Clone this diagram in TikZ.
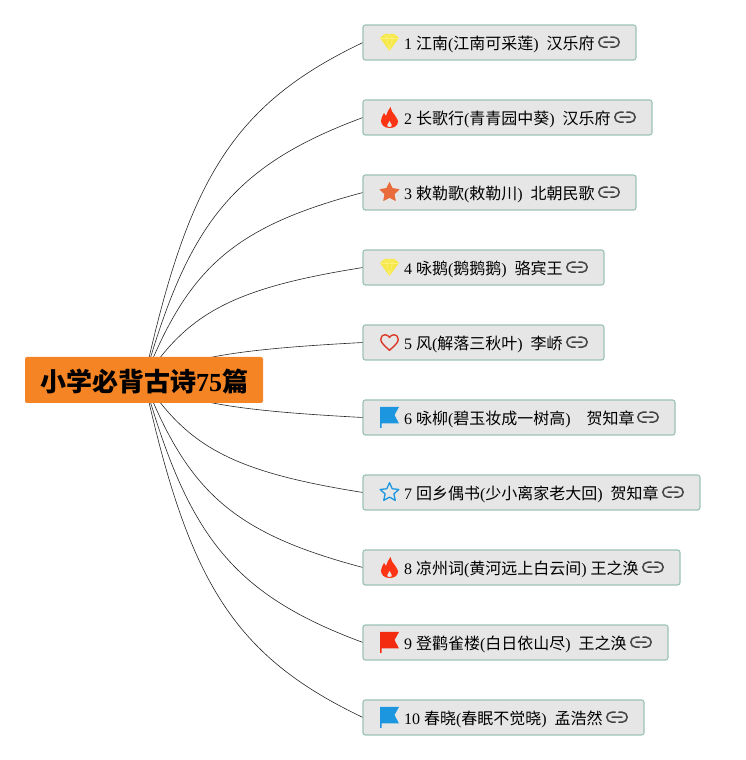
\documentclass[tikz,border=0pt]{standalone}
\usepackage{fontspec}
\setmainfont{Liberation Serif}
\newfontfamily\cjk{Noto Sans CJK SC}
\newcommand\hz[1]{{\cjk #1}}
\usetikzlibrary{calc,backgrounds}
\definecolor{rootfill}{HTML}{F58424}
\definecolor{boxfill}{HTML}{E6E6E6}
\definecolor{boxline}{HTML}{9DC3B5}
\definecolor{linkc}{HTML}{444444}
\definecolor{gemc}{HTML}{F7E84A}
\definecolor{gemlight}{HTML}{FBF07A}
\definecolor{firec}{HTML}{FA3414}
\definecolor{starc}{HTML}{E96A3A}
\definecolor{heartc}{HTML}{DB3A2A}
\definecolor{blueic}{HTML}{1B96DF}
\definecolor{redflag}{HTML}{F32C10}
\tikzset{
  rootnode/.style={draw=none,fill=rootfill,rounded corners=2pt,minimum width=238pt,minimum height=46pt,inner sep=0pt,outer sep=0pt,text height=24pt,text depth=0.8pt,font=\fontsize{26}{28}\selectfont\bfseries},
  topicbox/.style={draw=boxline,line width=1.2pt,fill=boxfill,rounded corners=2.5pt,minimum height=35pt,inner sep=0pt,outer sep=0pt,anchor=west},
  topictext/.style={anchor=west,inner sep=0pt,outer sep=0pt,font=\fontsize{16}{18}\selectfont},
  conn/.style={draw=black!85,line width=0.6pt},
  pics/gem/.style={code={
    \fill[gemc] (-9.5,4.5)--(-5,8.5)--(5,8.5)--(9.5,4.5)--(0,-8.5)--cycle;
    \draw[gemlight,line width=.6pt] (-9,4)--(9,4) (-5,8)--(-3,4)--(0,8)--(3,4)--(5,8) (-3,4)--(0,-7)--(3,4);
  }},
  pics/fire/.style={code={
    \fill[firec,even odd rule] (0,-10.5) .. controls (-5.5,-10.5) and (-8.5,-7) .. (-8.5,-3)
      .. controls (-8.5,0) and (-6.5,2) .. (-5.5,4.5)
      .. controls (-4.5,3.5) and (-4,2.5) .. (-3.5,1.5)
      .. controls (-2.5,5) and (-1,8) .. (1,10.5)
      .. controls (1,7) and (3.5,5) .. (5.5,2)
      .. controls (7.5,-1) and (8.5,-3) .. (8.5,-4)
      .. controls (8.5,-8) and (5,-10.5) .. (0,-10.5) -- cycle
      (0,-9.8) .. controls (-1.8,-9.8) and (-2.6,-8.4) .. (-2.3,-7.2)
      .. controls (-2,-6) and (-0.4,-5) .. (0,-3)
      .. controls (0.5,-5) and (2,-6) .. (2.3,-7.2)
      .. controls (2.6,-8.4) and (1.8,-9.8) .. (0,-9.8) -- cycle;
  }},
  pics/solidstar/.style={code={
    \fill[starc,draw=starc,line width=.6pt,line join=round] (90:10)--(126:5)--(162:10)--(198:5)--(234:10)--(270:5)--(306:10)--(342:5)--(18:10)--(54:5)--cycle;
  }},
  pics/openstar/.style={code={
    \draw[blueic,line width=1.3pt,line join=round] (90:9.8)--(126:4.6)--(162:9.8)--(198:4.6)--(234:9.8)--(270:4.6)--(306:9.8)--(342:4.6)--(18:9.8)--(54:4.6)--cycle;
  }},
  pics/heart/.style={code={
    \draw[heartc,line width=1.4pt,line join=round] (0,-7.8) .. controls (-4,-4) and (-8.8,-0.5) .. (-8.8,3.2)
      .. controls (-8.8,6.3) and (-6.5,7.8) .. (-4.5,7.8)
      .. controls (-2.5,7.8) and (-1,6.5) .. (0,5)
      .. controls (1,6.5) and (2.5,7.8) .. (4.5,7.8)
      .. controls (6.5,7.8) and (8.8,6.3) .. (8.8,3.2)
      .. controls (8.8,-0.5) and (4,-4) .. (0,-7.8) -- cycle;
  }},
  pics/banner/.style={code={
    \fill[#1] (-9.5,10.5)--(9.5,10.5)--(5,2.5)--(9.5,-6)--(-8,-6)--(-8,-10.5)--(-9.5,-10.5)--cycle;
  }},
  pics/linkicon/.style={code={
    \draw[linkc,line width=1.5pt,line cap=round] (-1.8,5) -- (-5.2,5) arc[start angle=90,end angle=270,radius=5] -- (-1.8,-5)
      (1.8,5) -- (5.2,5) arc[start angle=90,end angle=-90,radius=5] -- (1.8,-5)
      (-5,0) -- (5,0);
  }}
}
\begin{document}
\begin{tikzpicture}[x=1pt,y=1pt]
\useasboundingbox (0,0) rectangle (745,760);
\node[rootnode] (root) at (144,380) {\hz{小学必背古诗}75\hz{篇}};
\foreach \i/\y/\r/\t in {
 1/717.5/636/{1 \hz{江南}(\hz{江南可采莲})~~\hz{汉乐府}},
 2/642.5/652/{2 \hz{长歌行}(\hz{青青园中葵})~~\hz{汉乐府}},
 3/567.5/636/{3 \hz{敕勒歌}(\hz{敕勒川})~~\hz{北朝民歌}},
 4/492.5/604/{4 \hz{咏鹅}(\hz{鹅鹅鹅})~~\hz{骆宾王}},
 5/417.5/604/{5 \hz{风}(\hz{解落三秋叶})~~\hz{李峤}},
 6/342.5/675/{6 \hz{咏柳}(\hz{碧玉妆成一树高})~~~~\hz{贺知章}},
 7/267.5/700/{7 \hz{回乡偶书}(\hz{少小离家老大回})~~\hz{贺知章}},
 8/192.5/680/{8 \hz{凉州词}(\hz{黄河远上白云间})~\hz{王之涣}},
 9/117.5/668/{9 \hz{登鹳雀楼}(\hz{白日依山尽})~~\hz{王之涣}},
 10/42.5/644/{10 \hz{春晓}(\hz{春眠不觉晓})~~\hz{孟浩然}}}{
  \node[topicbox,minimum width={(\r-363)*1pt}] (b\i) at (363,\y) {};
  \node[topictext] (t\i) at (404,{\y-1.5}) {\t};
  \pic at ({\r-27},{\y+0.3}) {linkicon};
}
\pic at (389.5,717.5) {gem};
\pic at (389.5,642.5) {fire};
\pic at (389.5,567.5) {solidstar};
\pic at (389.5,492.5) {gem};
\pic at (389.5,417.5) {heart};
\pic at (389.5,342.5) {banner=blueic};
\pic at (389.5,267.5) {openstar};
\pic at (389.5,192.5) {fire};
\pic at (389.5,117.5) {banner=redflag};
\pic at (389.5,42.5) {banner=blueic};
\begin{scope}[on background layer]
\foreach \i in {1,...,10}{
  \draw[conn] let \p1=(root.center),\p2=(b\i.west) in
    (root.center) .. controls ({\x1+.2*(\x2-\x1)},{\y1+.59*(\y2-\y1)})
    and ({\x1+.4*(\x2-\x1)},{\y1+.815*(\y2-\y1)}) .. (b\i.west);
}
\end{scope}
\end{tikzpicture}
\end{document}
